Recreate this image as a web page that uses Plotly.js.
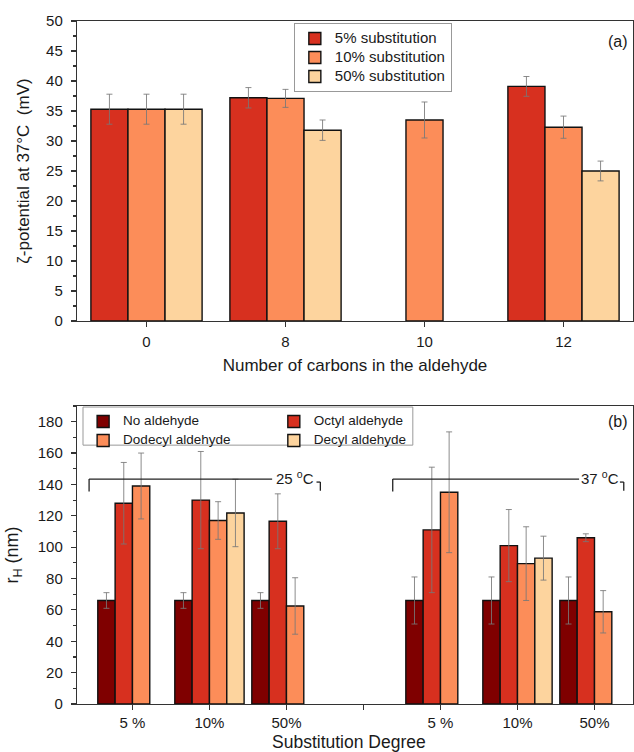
<!DOCTYPE html>
<html><head><meta charset="utf-8">
<script src="https://cdn.plot.ly/plotly-3.0.1.min.js"></script>
<style>html,body{margin:0;padding:0;background:#fff}#chart{width:634px;height:752px}</style>
</head><body><div id="chart"></div>
<script>
// ---------- Panel (a): zeta potential ----------
const carbonCategories = ['0', '8', '10', '12'];
const zetaSeriesNames = ['5% substitution', '10% substitution', '50% substitution'];
const zeta5 = [35.3, 37.2, null, 39.1];
const zeta10 = [35.3, 37.1, 33.5, 32.3];
const zeta50 = [35.3, 31.8, null, 25.0];
const zeta5Err = [2.5, 1.7, null, 1.65];
const zeta10Err = [2.5, 1.5, 3.0, 1.85];
const zeta50Err = [2.5, 1.7, null, 1.65];

// ---------- Panel (b): hydrodynamic radius ----------
const temperatures = ['25 °C', '37 °C'];
const degreeLabels = ['5 %', '10%', '50%'];
const aldehydeNames = ['No aldehyde', 'Octyl aldehyde', 'Dodecyl aldehyde', 'Decyl aldehyde'];
// order: 25 °C (5 %, 10%, 50%), 37 °C (5 %, 10%, 50%)
const rhNone = [66, 66, 66, 66, 66, 66];
const rhOctyl = [128, 130, 116.5, 111, 101, 106];
const rhDodecyl = [139, 117, 62.5, 135, 89.5, 58.8];
const rhDecyl = [null, 121.8, null, null, 93, null];
const rhNoneErr = [5, 5, 5, 15, 15, 15];
const rhOctylErr = [26, 31, 17.5, 40, 23, 2.5];
const rhDodecylErr = [21, 12, 18, 38.5, 23.5, 13.5];
const rhDecylErr = [null, 21.5, null, null, 14, null];

const FONT = 'Liberation Sans, Arial, Helvetica, sans-serif';
const palette = ['#7f0000', '#d7301f', '#fc8d59', '#fdd49e'];
const errStyle = {color: 'rgba(120,120,120,0.85)', thickness: 1, width: 3};
const outline = {color: '#111', width: 1.4};
const legendLabel = (txt, px) => '<span style="font-size:' + px + 'px">' + txt + '</span>';

// category keys for panel (b), with a spacer between temperature blocks
const blockKeys = temperatures.map(t => degreeLabels.map(d => t + ' ' + d));
const rhKeys = blockKeys.flat();
const spacer = 'gap';
const rhCategoryArray = [...blockKeys[0], spacer, ...blockKeys[1]];
const rhTickText = [...degreeLabels, '', ...degreeLabels];

const traces = [];

// Panel (a) traces: 3 bars per group, group width 0.8
const zetaVals = [zeta5, zeta10, zeta50];
const zetaErrs = [zeta5Err, zeta10Err, zeta50Err];
const zetaColors = [palette[1], palette[2], palette[3]];
const gA = 0.8, wA = gA / zetaVals.length;
zetaVals.forEach((vals, i) => {
  traces.push({
    type: 'bar', name: legendLabel(zetaSeriesNames[i], 15), x: carbonCategories, y: vals,
    xaxis: 'x', yaxis: 'y', legend: 'legend',
    width: wA, offset: -gA / 2 + i * wA,
    marker: {color: zetaColors[i], line: outline},
    error_y: Object.assign({type: 'data', array: zetaErrs[i], visible: true}, errStyle),
    hoverinfo: 'x+y'
  });
});

// Panel (b) traces: 4 slots per group, group width 0.9
const rhVals = [rhNone, rhOctyl, rhDodecyl, rhDecyl];
const rhErrs = [rhNoneErr, rhOctylErr, rhDodecylErr, rhDecylErr];
const rhLegends = ['legend2', 'legend3', 'legend2', 'legend3'];
const gB = 0.9, wB = gB / rhVals.length;
rhVals.forEach((vals, i) => {
  traces.push({
    type: 'bar', name: legendLabel(aldehydeNames[i], 13.5), x: rhKeys, y: vals,
    xaxis: 'x2', yaxis: 'y2', legend: rhLegends[i],
    width: wB, offset: -gB / 2 + i * wB,
    marker: {color: palette[i], line: outline},
    error_y: Object.assign({type: 'data', array: rhErrs[i], visible: true}, errStyle),
    hoverinfo: 'y'
  });
});

const axLine = {showline: true, mirror: true, linecolor: '#333', linewidth: 1.2,
  showgrid: false, zeroline: false, ticks: 'outside', ticklen: 5, tickwidth: 1.2, tickcolor: '#333'};

// bracket decorations (panel b)
const br = {color: '#222', width: 1.3};
const bracketY = 143.4, bracketTickY = 135.5;
const brackets = [
  {x0: -0.563, x1: 1.814, text: 2.11, hook: 2.44},
  {x0: 3.38, x1: 5.80, text: 6.07, hook: 6.38}
];
const shapes = [];
const annotations = [];
brackets.forEach((b, i) => {
  shapes.push({type: 'line', xref: 'x2', yref: 'y2', x0: b.x0, x1: b.x1, y0: bracketY, y1: bracketY, line: br});
  shapes.push({type: 'line', xref: 'x2', yref: 'y2', x0: b.x0, x1: b.x0, y0: bracketY, y1: bracketTickY, line: br});
  shapes.push({type: 'line', xref: 'x2', yref: 'y2', x0: b.hook, x1: b.hook, y0: 141.5, y1: 136, line: br});
  shapes.push({type: 'line', xref: 'x2', yref: 'y2', x0: b.hook - 0.05, x1: b.hook, y0: 141.5, y1: 141.5, line: br});
  annotations.push({xref: 'x2', yref: 'y2', x: b.text, y: bracketY + 1, xanchor: 'center', yanchor: 'middle',
    showarrow: false, text: temperatures[i].replace('°', '<sup>o</sup>'), font: {size: 15, color: '#1a1a1a'}});
});
// legend box for panel (b)
shapes.push({type: 'rect', xref: 'paper', yref: 'paper', x0: 0.0108, x1: 0.604, y0: 0.379, y1: 0.4348,
  line: {color: '#999', width: 1}, fillcolor: 'rgba(0,0,0,0)', layer: 'above'});
annotations.push({xref: 'paper', yref: 'paper', x: 0.973, y: 0.9707, xanchor: 'center', yanchor: 'middle',
  text: '(a)', showarrow: false, font: {size: 16}});
annotations.push({xref: 'paper', yref: 'paper', x: 0.973, y: 0.4129, xanchor: 'center', yanchor: 'middle',
  text: '(b)', showarrow: false, font: {size: 16}});
// x title of panel (b)
annotations.push({xref: 'paper', yref: 'paper', x: 0.49, y: -0.0556, xanchor: 'center', yanchor: 'middle',
  showarrow: false, text: 'Substitution Degree', font: {size: 17.5}});

const layout = {
  width: 634, height: 752,
  margin: {l: 77, r: 1, t: 21, b: 48},
  paper_bgcolor: '#fff', plot_bgcolor: '#fff',
  barmode: 'overlay',
  font: {family: FONT, size: 15, color: '#1a1a1a'},
  xaxis: Object.assign({}, axLine, {
    domain: [0, 1], anchor: 'y', type: 'category', categoryorder: 'array', categoryarray: carbonCategories,
    range: [-0.5, 3.5], ticklabelstandoff: 2,
    title: {text: 'Number of carbons in the aldehyde', font: {size: 17}, standoff: 10}
  }),
  yaxis: Object.assign({}, axLine, {
    domain: [0.5608, 1], anchor: 'x', range: [0, 50], dtick: 5, ticklabelstandoff: 5,
    minor: {ticks: 'outside', ticklen: 3, dtick: 2.5, tickcolor: '#333'},
    title: {text: 'ζ-potential at 37°C  (mV)', font: {size: 17}, standoff: 12}
  }),
  xaxis2: Object.assign({}, axLine, {
    domain: [0, 1], anchor: 'y2', type: 'category', categoryorder: 'array', categoryarray: rhCategoryArray,
    range: [-0.72, 6.5], tickmode: 'array', tickvals: rhCategoryArray, ticktext: rhTickText, ticklabelstandoff: 0
  }),
  yaxis2: Object.assign({}, axLine, {
    domain: [0, 0.4363], anchor: 'x2', range: [0, 190], dtick: 20, ticklabelstandoff: 5,
    minor: {ticks: 'outside', ticklen: 3, dtick: 10, tickcolor: '#333'},
    title: {text: 'r<sub>H</sub> (nm)', font: {size: 18}, standoff: 14}
  }),
  showlegend: true,
  legend: {x: 0.39, y: 0.997, xanchor: 'left', yanchor: 'top', bgcolor: '#fff', bordercolor: '#999', borderwidth: 1,
    font: {size: 12}, traceorder: 'normal'},
  legend2: {x: 0.011, y: 0.4348, xanchor: 'left', yanchor: 'top', bgcolor: 'rgba(0,0,0,0)', borderwidth: 0,
    font: {size: 10}, traceorder: 'normal'},
  legend3: {x: 0.354, y: 0.4348, xanchor: 'left', yanchor: 'top', bgcolor: 'rgba(0,0,0,0)', borderwidth: 0,
    font: {size: 10}, traceorder: 'normal'},
  shapes: shapes,
  annotations: annotations
};

Plotly.newPlot('chart', traces, layout, {staticPlot: true, displayModeBar: false});
</script>
</body></html>
